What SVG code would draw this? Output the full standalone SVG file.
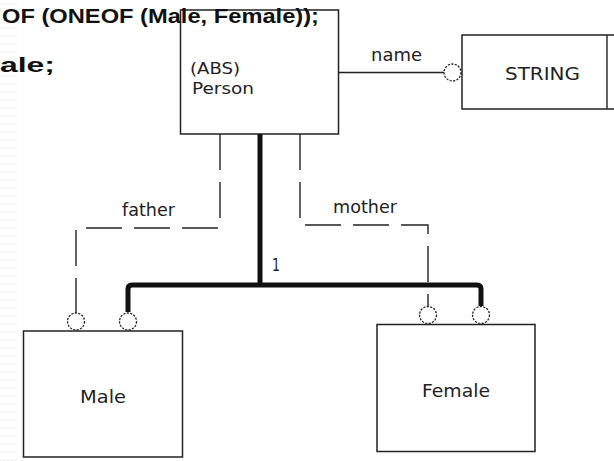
<svg xmlns="http://www.w3.org/2000/svg" width="614" height="461" viewBox="0 0 614 461">
  <style>
    .box { fill: #ffffff; stroke: #222222; stroke-width: 1.5; }
    .thin { fill: none; stroke: #222222; stroke-width: 1.4; }
    .dash { fill: none; stroke: #222222; stroke-width: 1.4; stroke-dasharray: 36 12; }
    .thick { fill: none; stroke: #111111; stroke-width: 5; stroke-linejoin: round; }
    .port { fill: #ffffff; stroke: #222222; stroke-width: 1.3; stroke-dasharray: 2.2 1.3; }
    .lbl { font-family: "DejaVu Sans", "Liberation Sans", sans-serif; fill: #222222; }
    .decl { font-family: "Liberation Sans", Arial, sans-serif; font-weight: bold; font-size: 21px; fill: #111111; }
  </style>
  <defs>
    <pattern id="wave" width="18" height="8" patternUnits="userSpaceOnUse">
      <path d="M0,5 l2,-2 l2,2 l2,-2 l2,2 l2,-2 l2,2 l2,-2 l2,2 l2,-2" fill="none" stroke="#ececec" stroke-width="0.8"/>
    </pattern>
  </defs>

  <rect x="0" y="0" width="614" height="461" fill="#ffffff"/>
  <rect x="0" y="0" width="18" height="461" fill="url(#wave)"/>

  <!-- nodes -->
  <g id="person">
    <rect class="box" x="180.5" y="10" width="158" height="124"/>
    <text class="lbl" x="190" y="74" font-size="16" textLength="50" lengthAdjust="spacingAndGlyphs">(ABS)</text>
    <text class="lbl" x="192" y="94" font-size="16" textLength="62" lengthAdjust="spacingAndGlyphs">Person</text>
  </g>

  <g id="string">
    <rect class="box" x="462" y="35" width="200" height="74"/>
    <line class="thin" x1="607" y1="35" x2="607" y2="109"/>
    <text class="lbl" x="505" y="80" font-size="18" textLength="75" lengthAdjust="spacingAndGlyphs">STRING</text>
  </g>

  <g id="male">
    <rect class="box" x="23.5" y="331" width="159" height="126"/>
    <text class="lbl" x="80" y="403" font-size="18" textLength="46" lengthAdjust="spacingAndGlyphs">Male</text>
  </g>

  <g id="female">
    <rect class="box" x="377" y="324.5" width="158" height="127"/>
    <text class="lbl" x="422" y="397" font-size="18" textLength="68" lengthAdjust="spacingAndGlyphs">Female</text>
  </g>

  <!-- declaration text over the Person box -->
  <g id="declaration">
    <text class="decl" x="2" y="23" textLength="317" lengthAdjust="spacingAndGlyphs">OF (ONEOF (Male, Female));</text>
    <text class="decl" x="0" y="72" textLength="55" lengthAdjust="spacingAndGlyphs">ale;</text>
  </g>

  <!-- connectors -->
  <g id="connectors">
    <!-- name attribute -->
    <line class="thin" x1="338" y1="72.5" x2="444" y2="72.5"/>
    <text class="lbl" x="371" y="61" font-size="17" textLength="51" lengthAdjust="spacingAndGlyphs">name</text>
    <circle class="port" cx="452.5" cy="72.5" r="8.5"/>

    <!-- father / mother roles -->
    <path class="dash" d="M220,134 V228 H76 V313"/>
    <text class="lbl" x="122" y="216" font-size="17" textLength="53" lengthAdjust="spacingAndGlyphs">father</text>
    <path class="dash" d="M300,134 V225 H428 V307"/>
    <text class="lbl" x="333" y="213" font-size="17" textLength="64" lengthAdjust="spacingAndGlyphs">mother</text>

    <!-- subtype hierarchy -->
    <path class="thick" d="M260,134 V285"/>
    <path class="thick" d="M128,312 V289 Q128,285 132,285 H477 Q481,285 481,289 V306"/>
    <text class="lbl" x="272" y="271" font-size="18" fill="#111111" textLength="8" lengthAdjust="spacingAndGlyphs">1</text>

    <circle class="port" cx="76" cy="321.5" r="8.5"/>
    <circle class="port" cx="128" cy="321.5" r="8.5"/>
    <circle class="port" cx="428" cy="315" r="8.5"/>
    <circle class="port" cx="481" cy="315" r="8.5"/>
  </g>
</svg>
